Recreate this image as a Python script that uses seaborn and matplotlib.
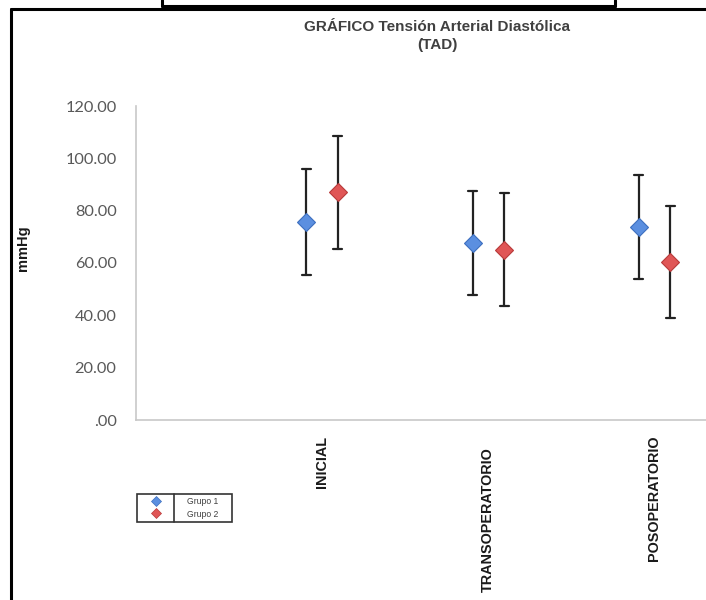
import numpy as np
import pandas as pd
import matplotlib
matplotlib.use("Agg")
import matplotlib.pyplot as plt
from matplotlib.lines import Line2D
from matplotlib.patches import Rectangle
from matplotlib.transforms import ScaledTranslation
import seaborn as sns

# ---- data ----
momentos = ["INICIAL", "TRANSOPERATORIO", "POSOPERATORIO"]
grupos = ["Grupo 1", "Grupo 2"]
media_g1 = [75.6, 67.6, 73.7]
media_g2 = [87.0, 65.0, 60.3]
de_g1 = [20.2, 20.0, 20.0]
de_g2 = [21.6, 21.6, 21.3]
ytick_vals = [0, 20, 40, 60, 80, 100, 120]
ytick_labels = [".00", "20.00", "40.00", "60.00", "80.00", "100.00", "120.00"]
colores = ["#5B8FE0", "#E05656"]
bordes = ["#3D6FBF", "#B83A3A"]

# long table: lower bound, mean, upper bound per point (median -> mean, 100% interval -> +/- SD)
rows = []
for g, medias, des in [(grupos[0], media_g1, de_g1), (grupos[1], media_g2, de_g2)]:
    for m, mu, sd in zip(momentos, medias, des):
        for v in (mu - sd, mu, mu + sd):
            rows.append({"momento": m, "grupo": g, "valor": v})
df = pd.DataFrame(rows)

sns.set_theme(style="white")
plt.rcParams["font.family"] = ["Liberation Sans", "DejaVu Sans"]

fig = plt.figure(figsize=(7.06, 6.00), dpi=100)
ax = fig.add_axes([136 / 706, 1 - 420 / 600, 1 - 136 / 706, (420 - 106) / 600])

sns.pointplot(
    data=df, x="momento", y="valor", hue="grupo", order=momentos, hue_order=grupos,
    estimator="median", errorbar=("pi", 100), dodge=0.19, linestyle="none",
    markers="D", palette=colores, capsize=0.055, markersize=9,
    err_kws={"color": "#222222", "linewidth": 1.6}, ax=ax, legend=False,
)

# style markers and layering
for ln in ax.lines:
    if ln.get_marker() == "D":
        col = ln.get_markerfacecolor()
        idx = 0 if np.allclose(matplotlib.colors.to_rgb(col), matplotlib.colors.to_rgb(colores[0])) else 1
        ln.set_markeredgecolor(bordes[idx])
        ln.set_markeredgewidth(0.8)
        ln.set_zorder(5)
    else:
        ln.set_color("#222222")
        ln.set_zorder(3)

ax.set_xlim(-1.12, 2.31)
ax.set_ylim(0, 120)
ax.set_yticks(ytick_vals)
ax.set_yticklabels(ytick_labels, family=["Lato", "DejaVu Sans"], fontsize=11.8, color="#595959")
ax.tick_params(axis="y", length=0, pad=14)
ax.set_xticks(range(len(momentos)))
ax.set_xticklabels(momentos, rotation=90, fontweight="bold", fontsize=10.4, color="#1a1a1a", va="top")
ax.tick_params(axis="x", length=0, pad=11.5)
# TRANSOPERATORIO sits a bit lower in the reference
lab = ax.get_xticklabels()[1]
lab.set_transform(lab.get_transform() + ScaledTranslation(0, -11 / 100, fig.dpi_scale_trans))

ax.set_xlabel("")
ax.set_ylabel("")
for s in ["top", "right"]:
    ax.spines[s].set_visible(False)
for s in ["left", "bottom"]:
    ax.spines[s].set_color("#c8c8c8")
    ax.spines[s].set_linewidth(1.2)
ax.grid(False)

# y label
fig.text(23 / 706, 1 - 248 / 600, "mmHg", rotation=90, ha="center", va="center",
         fontsize=10.5, fontweight="bold", color="#1a1a1a")

# title
fig.text(437 / 706, 1 - 27 / 600, "GRÁFICO Tensión Arterial Diastólica", ha="center", va="center",
         fontsize=11, fontweight="bold", color="#404040")
fig.text(437 / 706, 1 - 45 / 600, "(TAD)", ha="center", va="center",
         fontsize=11, fontweight="bold", color="#404040")

# legend (frame drawn separately, with a divider like the reference)
handles = [Line2D([], [], marker="D", linestyle="none", markersize=5,
                  markerfacecolor=colores[i], markeredgecolor=bordes[i], markeredgewidth=0.5)
           for i in range(2)]
leg = fig.legend(handles, grupos, loc="center left", bbox_to_anchor=(147 / 706, 1 - 508 / 600),
                 bbox_transform=fig.transFigure, borderaxespad=0, fontsize=6.2,
                 frameon=False, handlelength=2.0, handletextpad=2.6, labelspacing=0.35,
                 borderpad=0)
for t in leg.get_texts():
    t.set_color("#404040")

def fig_px(x, y):
    return x / 706, 1 - y / 600

fig.add_artist(Rectangle(fig_px(137, 522), 95 / 706, 28 / 600, transform=fig.transFigure,
                         fill=False, edgecolor="#333333", linewidth=1.2))
fig.add_artist(Line2D([174 / 706] * 2, [1 - 494 / 600, 1 - 522 / 600],
                      transform=fig.transFigure, color="#333333", linewidth=1.2))

# page frame lines
def fline(x0, y0, x1, y1, lw=2.2):
    fig.add_artist(Line2D([x0 / 706, x1 / 706], [1 - y0 / 600, 1 - y1 / 600],
                          transform=fig.transFigure, color="black", linewidth=lw))

fline(11, 9, 706, 9)
fline(11, 9, 11, 600)
fline(162, 0, 162, 6)
fline(615, 0, 615, 6)
fline(162, 6, 615, 6)

fig.savefig("out.png", dpi=100, facecolor="white")
